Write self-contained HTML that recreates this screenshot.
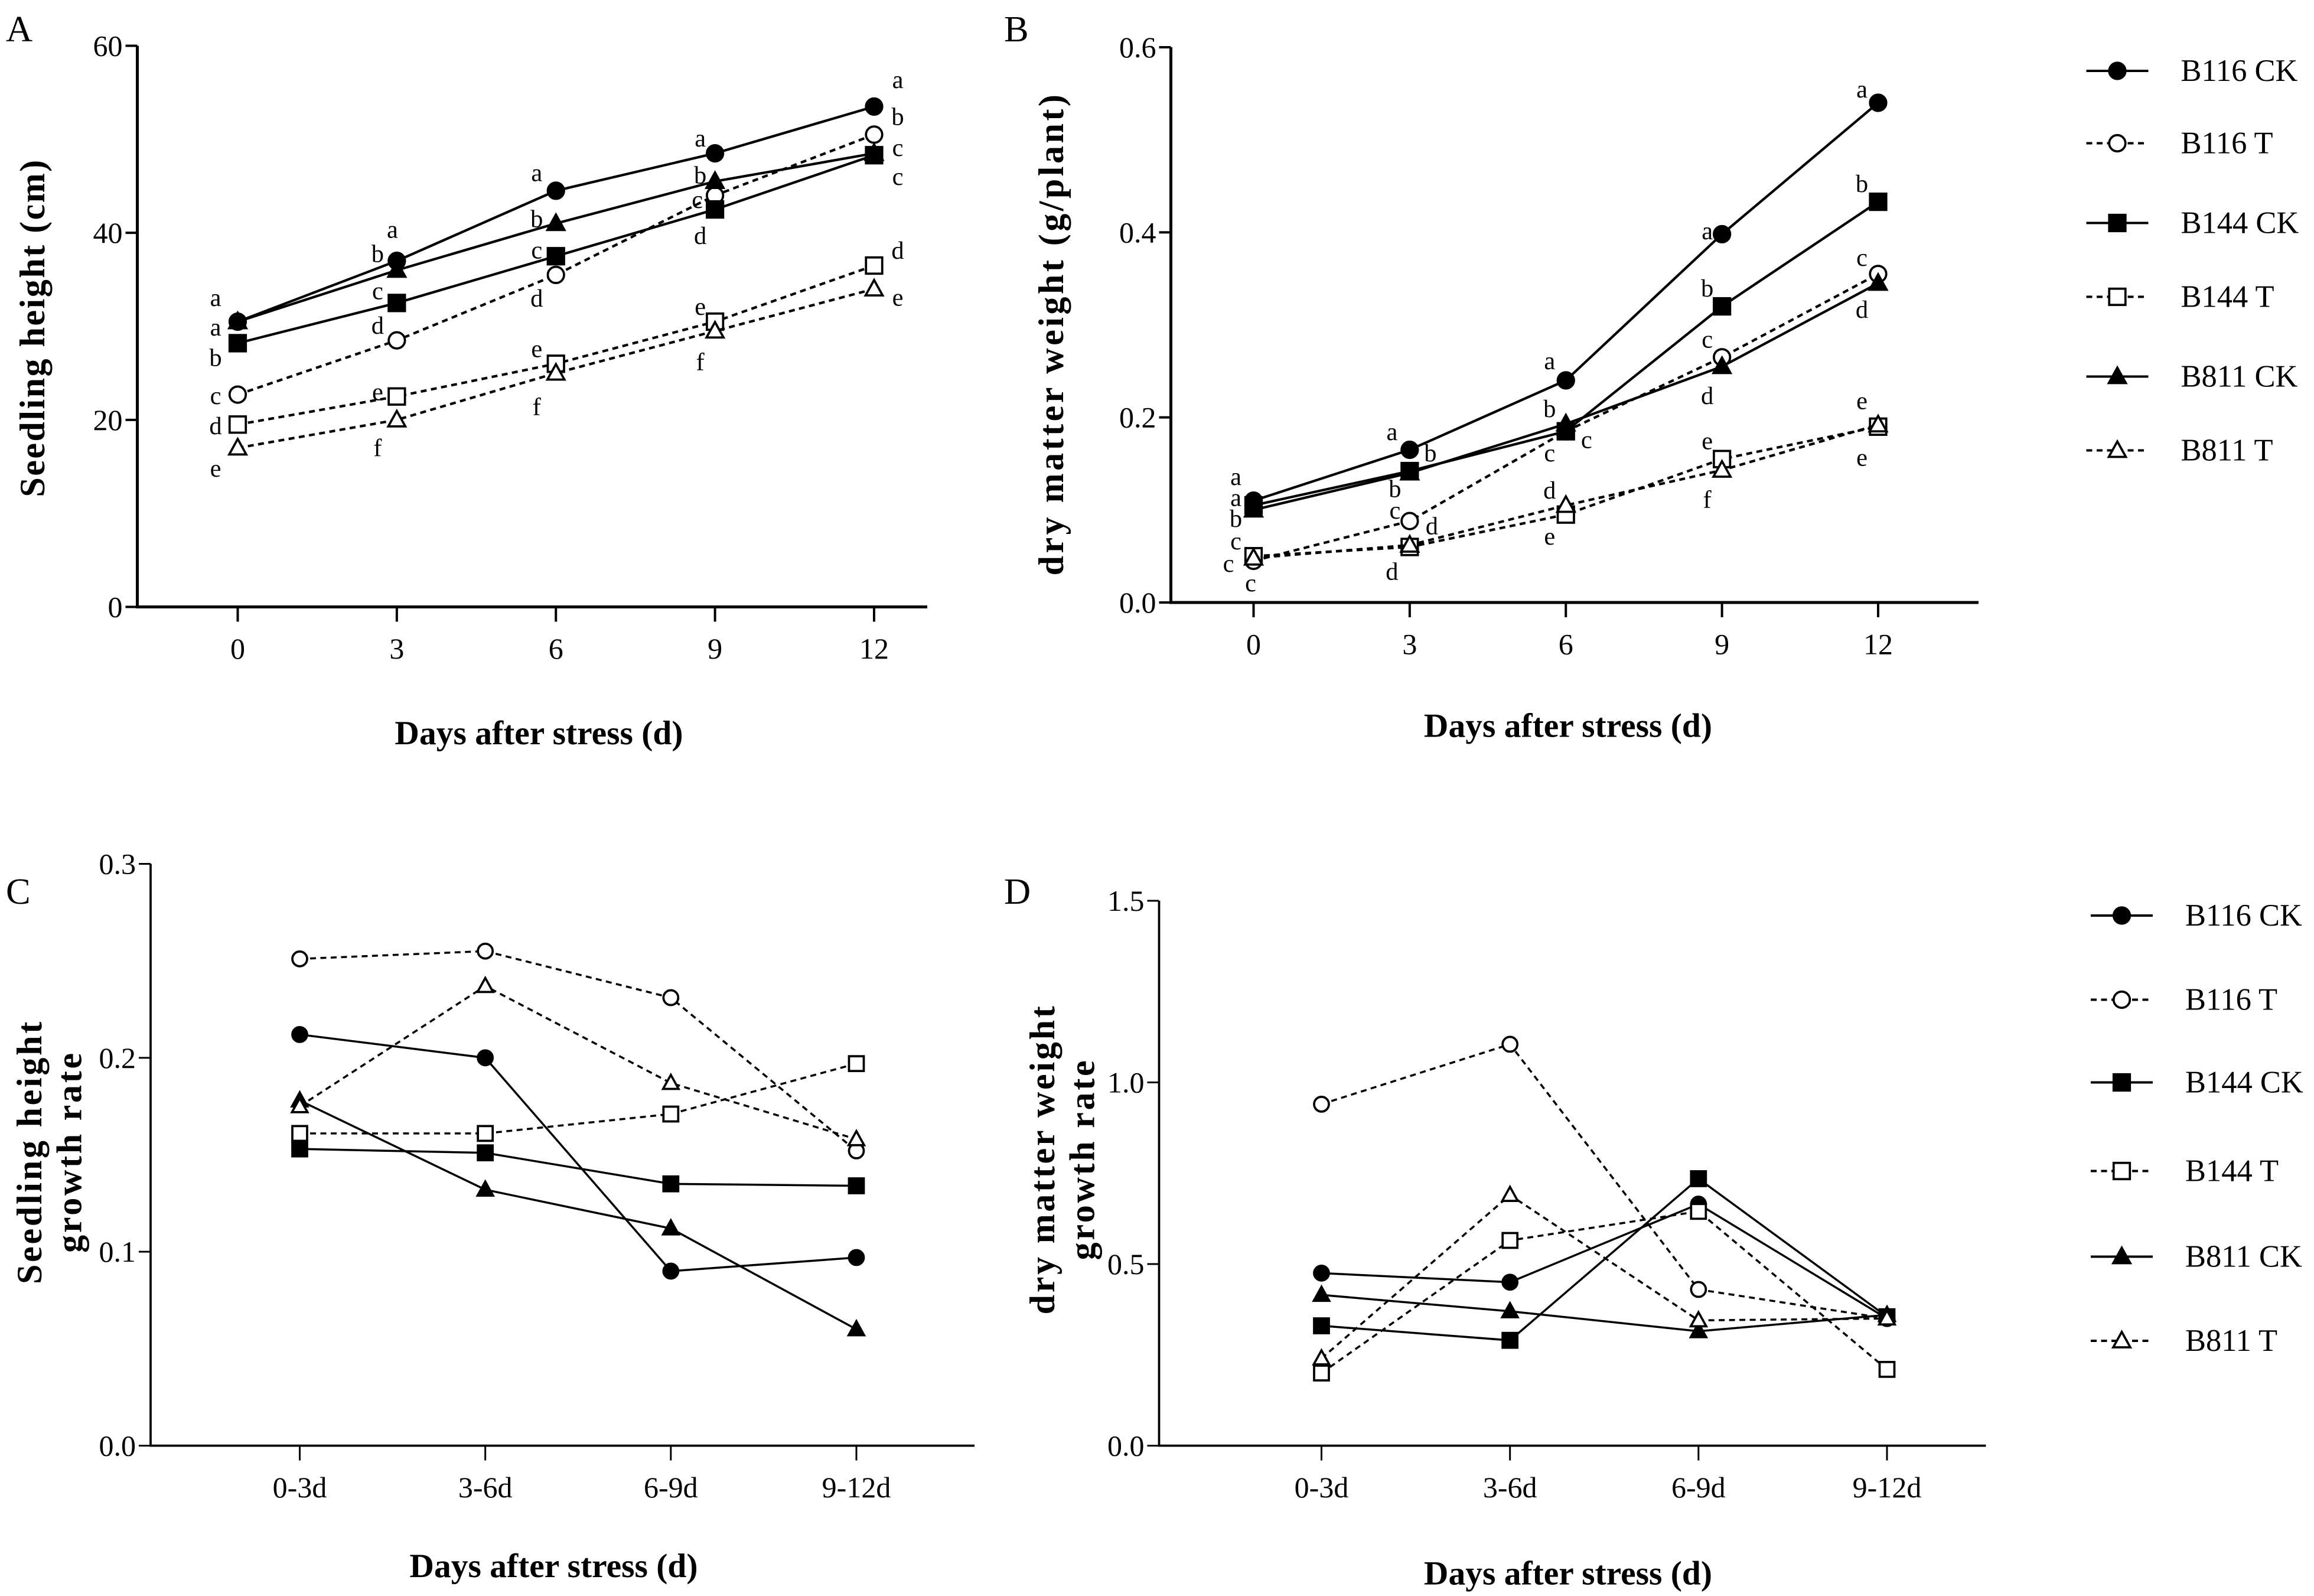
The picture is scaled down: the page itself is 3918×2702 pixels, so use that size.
<!DOCTYPE html>
<html><head><meta charset="utf-8"><style>
html,body{margin:0;padding:0;background:#fff}
svg{display:block}
text{font-family:"Liberation Serif",serif;fill:#000}
</style></head><body>
<svg id="fig" xmlns="http://www.w3.org/2000/svg" width="3918" height="2702" viewBox="0 0 1567.2 1080.8">
<rect width="1567.2" height="1080.8" fill="#fff"/>
</svg>
<script>
const seriesNames=["B116 CK","B116 T","B144 CK","B144 T","B811 CK","B811 T"];
const daysCats=["0","3","6","9","12"];
const rateCats=["0-3d","3-6d","6-9d","9-12d"];
// Panel A: seedling height (cm)
const aB116CK=[30.5,37,44.5,48.5,53.5];
const aB116T=[22.7,28.5,35.5,44,50.5];
const aB144CK=[28.2,32.5,37.5,42.5,48.3];
const aB144T=[19.5,22.5,26,30.5,36.5];
const aB811CK=[30.5,36,41,45.5,48.5];
const aB811T=[17,20,25,29.5,34];
const aTicks=[0,20,40,60];
// Panel B: dry matter weight
const bB116CK=[0.11,0.165,0.24,0.398,0.54];
const bB116T=[0.045,0.088,0.185,0.265,0.355];
const bB144CK=[0.105,0.142,0.185,0.32,0.433];
const bB144T=[0.05,0.06,0.095,0.155,0.19];
const bB811CK=[0.1,0.14,0.193,0.255,0.345];
const bB811T=[0.048,0.062,0.105,0.143,0.192];
const bTicks=[0.0,0.2,0.4,0.6];
// Panel C: height growth rate
const cB116CK=[0.212,0.2,0.09,0.097];
const cB116T=[0.251,0.255,0.231,0.152];
const cB144CK=[0.153,0.151,0.135,0.134];
const cB144T=[0.161,0.161,0.171,0.197];
const cB811CK=[0.178,0.132,0.112,0.06];
const cB811T=[0.175,0.237,0.187,0.158];
const cTicks=[0.0,0.1,0.2,0.3];
// Panel D: dry matter growth rate
const dB116CK=[0.475,0.45,0.665,0.35];
const dB116T=[0.94,1.105,0.43,0.35];
const dB144CK=[0.33,0.29,0.735,0.355];
const dB144T=[0.2,0.565,0.645,0.21];
const dB811CK=[0.415,0.37,0.315,0.36];
const dB811T=[0.24,0.69,0.345,0.35];
const dTicks=[0.0,0.5,1.0,1.5];
// significance letters: [series, point, letter]
const aLetters=[[0,0,"a"],[4,0,"a"],[2,0,"b"],[1,0,"c"],[3,0,"d"],[5,0,"e"],
[0,1,"a"],[4,1,"b"],[2,1,"c"],[1,1,"d"],[3,1,"e"],[5,1,"f"],
[0,2,"a"],[4,2,"b"],[2,2,"c"],[1,2,"d"],[3,2,"e"],[5,2,"f"],
[0,3,"a"],[4,3,"b"],[1,3,"c"],[2,3,"d"],[3,3,"e"],[5,3,"f"],
[0,4,"a"],[1,4,"b"],[2,4,"c"],[4,4,"c"],[3,4,"d"],[5,4,"e"]];
const aLetOff=[[-15,-16],[-15,4],[-15,10],[-15,1],[-15,1],[-15,14],
[-3,-21],[-13,-11],[-13,-8],[-13,-10],[-13,-3],[-13,19],
[-13,-12],[-13,-3],[-13,-4],[-13,16],[-13,-10],[-13,23],
[-10,-10],[-10,-4],[-12,3],[-10,18],[-10,-10],[-10,21],
[16,-18],[16,-12],[16,-5],[16,16],[16,-10],[16,6]];
const bLetters=[[0,0,"a"],[2,0,"a"],[4,0,"b"],[3,0,"c"],[1,0,"c"],[5,0,"c"],
[0,1,"a"],[2,1,"b"],[4,1,"b"],[1,1,"c"],[3,1,"d"],[5,1,"d"],
[0,2,"a"],[4,2,"b"],[2,2,"c"],[1,2,"c"],[5,2,"d"],[3,2,"e"],
[0,3,"a"],[2,3,"b"],[1,3,"c"],[4,3,"d"],[3,3,"e"],[5,3,"f"],
[0,4,"a"],[2,4,"b"],[1,4,"c"],[4,4,"d"],[5,4,"e"],[3,4,"e"]];
const bLetOff=[[-12,-16],[-12,-5],[-12,6],[-12,-10],[-17,2],[-2,17],
[-12,-12],[14,-12],[-10,11],[-10,-7],[15,-14],[-12,18],
[-11,-13],[-11,-10],[14,6],[-11,15],[-11,-10],[-11,15],
[-10,-2],[-10,-12],[-10,-12],[-10,20],[-10,-12],[-10,20],
[-11,-9],[-11,-12],[-11,-11],[-11,18],[-11,-16],[-11,21]];

const NS="http://www.w3.org/2000/svg";
const svg=document.getElementById('fig');
function mk(tag,attrs,parent){const e=document.createElementNS(NS,tag);for(const k in attrs)e.setAttribute(k,attrs[k]);(parent||svg).appendChild(e);return e;}
function txt(s,attrs,parent){const e=mk('text',attrs,parent);e.textContent=s;return e;}
const styles=[{shape:'circle',fill:true,dash:false},{shape:'circle',fill:false,dash:true},{shape:'square',fill:true,dash:false},{shape:'square',fill:false,dash:true},{shape:'tri',fill:true,dash:false},{shape:'tri',fill:false,dash:true}];
function marker(g,st,x,y,r){
  const f=st.fill?'#000':'#fff';let m;
  if(st.shape==='circle')m=mk('circle',{cx:x,cy:y,r:r,fill:f,stroke:'#000','stroke-width':1.5},g);
  else if(st.shape==='square')m=mk('rect',{x:x-r,y:y-r,width:2*r,height:2*r,fill:f,stroke:'#000','stroke-width':1.5},g);
  else m=mk('polygon',{points:`${x},${y-r*1.1} ${x-r*1.05},${y+r*0.8} ${x+r*1.05},${y+r*0.8}`,fill:f,stroke:'#000','stroke-width':1.5},g);
  return m;
}
function panel(o){
  const g=mk('g',{});
  
  
  const ys=v=>o.y0+(v-o.ticks[0])/(o.ticks[o.ticks.length-1]-o.ticks[0])*(o.y1-o.y0);
  const xs=i=>o.xc[0]+i*(o.xc[1]-o.xc[0])/(o.cats.length-1);
  const ax=mk('path',{d:`M${o.ax},${o.y1} V${o.y0} H${o.axEnd}`,fill:'none',stroke:'#000','stroke-width':o.aw},g);
  
  o.ticks.forEach(t=>{
    mk('line',{x1:o.ax-8,x2:o.ax,y1:ys(t),y2:ys(t),stroke:'#000','stroke-width':o.aw*0.8},g);
    const l=txt(o.fmt(t),{x:o.ax-10,y:ys(t),'text-anchor':'end','dominant-baseline':'central','font-size':20},g);
    
  });
  o.cats.forEach((c,i)=>{
    mk('line',{x1:xs(i),x2:xs(i),y1:o.y0,y2:o.y0+10,stroke:'#000','stroke-width':o.aw*0.8},g);
    const l=txt(c,{x:xs(i),y:o.y0+35,'text-anchor':'middle','font-size':20},g);
    
  });
  o.data.forEach((arr,si)=>{
    const st=styles[si];
    const sg=mk('g',{},g);
    
    
    const pts=arr.map((v,i)=>xs(i)+','+ys(v)).join(' ');
    mk('polyline',{points:pts,fill:'none',stroke:'#000','stroke-width':o.lw,'stroke-dasharray':st.dash?'4,3':'none'},sg);
    arr.forEach((v,i)=>{const m=marker(sg,st,xs(i),ys(v),o.mr);});
  });
  if(o.letters)o.letters.forEach((L,k)=>{
    const v=o.data[L[0]][L[1]];
    const t=txt(L[2],{x:xs(L[1])+o.letOff[k][0],y:ys(v)+o.letOff[k][1],'text-anchor':'middle','dominant-baseline':'central','font-size':17},g);
    
  });
  const pl=txt(o.label,{x:o.lx,y:o.ly,'font-size':25},g);
  
  const xt=txt('Days after stress (d)',{x:o.xtx,y:o.xty,'text-anchor':'middle','font-size':23,'font-weight':'bold'},g);
  
  o.ytitle.forEach((s,k)=>{
    const yt=txt(s,{x:0,y:0,'text-anchor':'middle','dominant-baseline':'central','font-size':24,'font-weight':'bold','letter-spacing':o.yls,transform:`translate(${o.ytx[k]},${o.yty}) rotate(-90)`},g);
    
  });
}
function legend(x,ys,mr){
  const g=mk('g',{});
  
  
  seriesNames.forEach((n,i)=>{
    const e=mk('g',{},g);
    
    
    mk('line',{x1:x,x2:x+42,y1:ys[i],y2:ys[i],stroke:'#000','stroke-width':1.6,'stroke-dasharray':styles[i].dash?'4,3':'none'},e);
    marker(e,styles[i],x+21,ys[i],mr);
    txt(n,{x:x+64,y:ys[i],'dominant-baseline':'central','font-size':21},e);
  });
}
const f0=t=>String(t), f1=t=>t.toFixed(1);
panel({name:'panel-a-seedling-height',ax:93,axEnd:628,y0:411,y1:31,ticks:aTicks,fmt:f0,cats:daysCats,xc:[161,592],
  data:[aB116CK,aB116T,aB144CK,aB144T,aB811CK,aB811T],letters:aLetters,letOff:aLetOff,aw:2,lw:1.7,mr:5.5,
  label:'A',lx:4,ly:28,xtx:365,xty:504,ytitle:['Seedling height (cm)'],ytx:[22],yty:222,yls:1});
panel({name:'panel-b-dry-matter-weight',ax:793,axEnd:1340,y0:408,y1:32,ticks:bTicks,fmt:f1,cats:daysCats,xc:[849,1272],
  data:[bB116CK,bB116T,bB144CK,bB144T,bB811CK,bB811T],letters:bLetters,letOff:bLetOff,aw:2,lw:1.7,mr:5.5,
  label:'B',lx:680,ly:28,xtx:1062,xty:499,ytitle:['dry matter weight (g/plant)'],ytx:[712],yty:226,yls:1.8});
panel({name:'panel-c-height-growth-rate',ax:102,axEnd:660,y0:979,y1:585,ticks:cTicks,fmt:f1,cats:rateCats,xc:[203,580],
  data:[cB116CK,cB116T,cB144CK,cB144T,cB811CK,cB811T],aw:1.5,lw:1.4,mr:5,
  label:'C',lx:4,ly:612,xtx:375,xty:1068,ytitle:['Seedling height','growth rate'],ytx:[20,47],yty:780,yls:1.5});
panel({name:'panel-d-dry-matter-growth-rate',ax:785,axEnd:1345,y0:979,y1:610,ticks:dTicks,fmt:f1,cats:rateCats,xc:[895,1278],
  data:[dB116CK,dB116T,dB144CK,dB144T,dB811CK,dB811T],aw:1.5,lw:1.4,mr:5,
  label:'D',lx:680,ly:612,xtx:1062,xty:1073,ytitle:['dry matter weight','growth rate'],ytx:[706,733],yty:785,yls:1.5});
legend(1413,[48,97,151,201,255,305],5.5);
legend(1416,[620,677,733,793,851,908],5.5);
</script>
</body></html>
